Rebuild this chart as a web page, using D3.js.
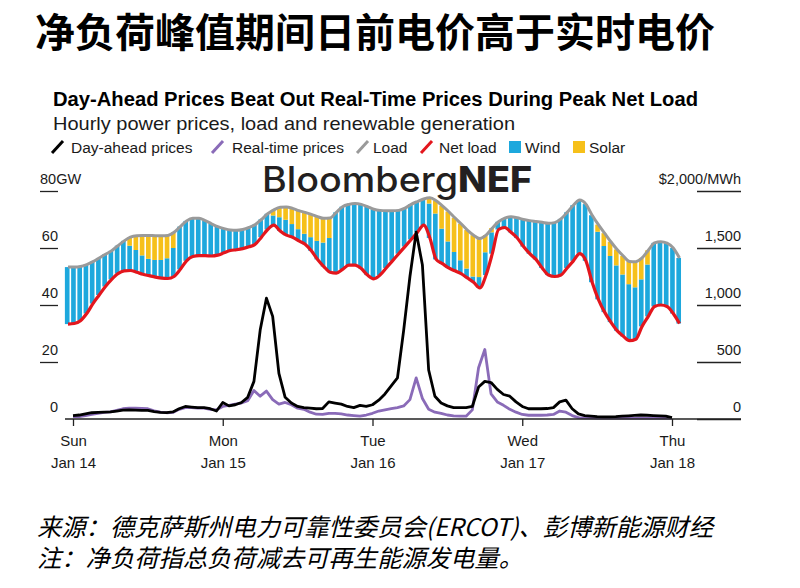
<!DOCTYPE html>
<html><head><meta charset="utf-8">
<script src="https://cdn.jsdelivr.net/npm/d3@7"></script>
<style>
body{margin:0;background:#fff;}
svg{display:block;}
text{font-family:"Liberation Sans",Arial,sans-serif;fill:#1a1a1a;}
.cjk{font-family:"Noto Sans CJK SC",sans-serif;}
</style></head><body>
<svg id="c" width="800" height="588"></svg>
<script>
// ---------------- data ----------------
const titleCN = "净负荷峰值期间日前电价高于实时电价";
const titleEN = "Day-Ahead Prices Beat Out Real-Time Prices During Peak Net Load";
const subtitleEN = "Hourly power prices, load and renewable generation";
const sourceCN = "来源：德克萨斯州电力可靠性委员会(ERCOT)、彭博新能源财经";
const noteCN = "注：净负荷指总负荷减去可再生能源发电量。";
const dayTicks = [0, 24, 48, 72, 96];               // hours since Sun Jan 14 00:00
const dayNames = ["Sun", "Mon", "Tue", "Wed", "Thu"];
const dayDates = ["Jan 14", "Jan 15", "Jan 16", "Jan 17", "Jan 18"];
const gwTicks = [0, 20, 40, 60, 80];
const priceTicks = [0, 500, 1000, 1500, 2000];
const loadStartHour = -1.3;                          // first hourly load bar starts here

// hourly load (GW), 99 hours
const loadGW = [53.3,53.3,53.5,54.2,55.2,56.5,57.8,59,60.8,62.5,63.8,64.3,64.4,64.4,64.3,64.3,64.4,65.5,67.5,69.5,70.4,70.4,69.6,68.5,67.5,
66.8,66.3,66.2,66.5,67.2,68.2,70,72,73.4,74.3,74.4,73.9,73.1,72.5,71.8,71,70.4,70.5,72.5,74.5,75.3,75.6,75.3,74.5,
73.6,73.2,73.1,73.1,73.2,74,75.3,76.3,77.2,77.6,76.6,74.8,72.8,70.6,68.5,66.3,64.5,63.3,64.5,67,69.2,70.5,71,70.6,
70,69.6,69.3,69,68.7,68.9,70.2,72.5,75,76.8,75.4,71.5,68.2,65.2,62.2,59.5,57.2,55.3,55.2,56.5,59.2,61.8,62.2,61.7,60,56.5];
// hourly net load (GW)
const netLoadGW = [33.3,33.5,34.5,37,40.5,43.5,46.5,49,51,52,52.1,51.5,50.8,50.3,49.8,49.4,49.3,50,52.5,55.5,57,57.3,57.3,57.2,57.5,
58.3,59.1,59.4,59.8,60.4,61.3,63.8,66.5,68,66,64.5,63.8,62.5,61.3,59,56,53.5,51.5,51.2,52.5,54,54,52.8,50.5,
49.2,50.5,53,55.5,58,60.5,63,65.5,68,63.5,56,54.5,53,52,51,49.5,48,46,50.5,58,66.5,67.2,65.5,63.5,
60.5,58,56,53,50.5,50,50.5,53,55.5,58,55.5,48,42,37.5,34,31,29,27.5,28,32.5,36,39.5,40,39.5,37,33.5];
// hourly solar (GW)
const solarGW = [0,0,0,0,0,0,0,0,0,0,3,5,7,8.2,8.5,8.5,8,5.5,0,0,0,0,0,0,0,
0,0,0,0,0,0,0,0,2,3.5,4.5,5.5,6.5,7.5,8,8.5,8.5,7,0,0,0,0,0,0,
0,0,0,0,0,0,0,0,0,2,4.5,8,10.5,12,12.8,13.5,14.5,13.5,6,1.5,0,0,0,0,
0,0,0,0,0,0,0,0,0,0,0,0,2.5,4.5,5,5.6,6.5,8,9,7.5,5,0,0,0,0,0,0,0,0];

// hourly prices ($/MWh), hours 0..96
const dayAheadPrice = [30,35,45,55,58,60,62,70,78,80,78,76,75,65,58,56,62,90,110,105,100,100,90,70,
145,115,125,145,190,330,780,1060,900,400,190,140,110,100,95,90,92,150,140,130,110,100,120,110,
125,165,220,290,360,780,1250,1640,1350,430,200,140,115,100,100,100,110,280,330,320,260,215,200,150,
110,90,90,90,92,100,150,165,90,45,30,25,20,18,18,20,25,28,32,35,33,30,28,25,12];
const realTimePrice = [20,22,30,40,50,58,62,75,90,95,95,93,90,72,60,55,58,85,100,100,95,95,85,80,
110,120,130,140,160,250,200,245,170,130,145,125,95,85,60,42,40,50,50,45,35,30,26,35,
50,70,80,90,100,115,170,360,180,85,60,50,35,28,25,25,80,450,610,220,150,120,85,60,
40,33,33,33,35,40,70,60,30,12,10,9,8,8,8,8,8,8,8,8,8,8,8,8,8];

// ---------------- colours ----------------
const C = {wind:"#1da8dd", solar:"#f6c01a", load:"#9a9a9a", net:"#e3161d", da:"#000000", rt:"#8a6bb8", text:"#1a1a1a"};

const svg = d3.select("#c");

// ---------------- scales ----------------
const x = d3.scaleLinear().domain([0, 96]).range([73, 672]);
const yL = d3.scaleLinear().domain([0, 80]).range([419, 191]);
const yR = d3.scaleLinear().domain([0, 2000]).range([419, 191]);

// ---------------- titles ----------------
svg.append("text").attr("class","cjk").attr("x",35).attr("y",47)
  .attr("font-size",40).attr("font-weight",700).style("fill","#000").text(titleCN);
svg.append("text").attr("x",53).attr("y",106).attr("font-size",19.5).attr("font-weight",700)
  .style("fill","#000")
  .attr("textLength",645).attr("lengthAdjust","spacingAndGlyphs").text(titleEN);
svg.append("text").attr("x",53).attr("y",130).attr("font-size",18.5)
  .attr("textLength",462).attr("lengthAdjust","spacingAndGlyphs").text(subtitleEN);

// ---------------- legend ----------------
const legendLines = [
  {label:"Day-ahead prices", color:C.da, ix:52, tx:71},
  {label:"Real-time prices", color:C.rt, ix:212, tx:232},
  {label:"Load", color:C.load, ix:357, tx:373},
  {label:"Net load", color:C.net, ix:421, tx:439}
];
const legendBoxes = [
  {label:"Wind", color:C.wind, ix:509, tx:525},
  {label:"Solar", color:C.solar, ix:573, tx:589}
];
const lg = svg.append("g");
legendLines.forEach(d => {
  lg.append("line").attr("x1",d.ix).attr("y1",153).attr("x2",d.ix+11).attr("y2",141)
    .attr("stroke",d.color).attr("stroke-width",3);
  lg.append("text").attr("x",d.tx).attr("y",153).attr("font-size",15.5).text(d.label);
});
legendBoxes.forEach(d => {
  lg.append("rect").attr("x",d.ix).attr("y",141).attr("width",12).attr("height",12).attr("fill",d.color);
  lg.append("text").attr("x",d.tx).attr("y",153).attr("font-size",15.5).text(d.label);
});

// ---------------- logo watermark ----------------
const logo = svg.append("text").attr("x",262).attr("y",192).attr("font-size",35)
  .style("font-family","Inter, 'Liberation Sans', sans-serif").style("fill","#231f20")
  .attr("textLength",270).attr("lengthAdjust","spacingAndGlyphs");
logo.append("tspan").attr("font-weight",500).text("Bloomberg");
logo.append("tspan").attr("font-weight",800).text("NEF");

// ---------------- bars ----------------
const bars = svg.append("g");
loadGW.forEach((L, i) => {
  const t0 = loadStartHour + i;
  const x0 = x(t0), w = x(t0 + 1) - x(t0) - 1.6;
  const n = netLoadGW[i], s = solarGW[i];
  const windTop = L - s;
  bars.append("rect").attr("x",x0).attr("width",w)
    .attr("y",yL(windTop)).attr("height",yL(n) - yL(windTop)).attr("fill",C.wind);
  if (s > 0) bars.append("rect").attr("x",x0).attr("width",w)
    .attr("y",yL(L)).attr("height",yL(windTop) - yL(L)).attr("fill",C.solar);
});

const hourLine = d3.line().x((d, i) => x(loadStartHour + i + 0.5)).y(d => yL(d)).curve(d3.curveMonotoneX);
svg.append("path").attr("d",hourLine(netLoadGW)).attr("fill","none").attr("stroke",C.net).attr("stroke-width",3.2);
svg.append("path").attr("d",hourLine(loadGW)).attr("fill","none").attr("stroke",C.load).attr("stroke-width",3);

// ---------------- price lines ----------------
const priceLine = d3.line().x((d, i) => x(i)).y(d => yR(d));
svg.append("path").attr("d",priceLine(realTimePrice)).attr("fill","none").attr("stroke",C.rt)
  .attr("stroke-width",2.8).attr("stroke-linejoin","round");
svg.append("path").attr("d",priceLine(dayAheadPrice)).attr("fill","none").attr("stroke",C.da)
  .attr("stroke-width",2.8).attr("stroke-linejoin","round");

// ---------------- axes ----------------
const gL = svg.append("g").attr("transform","translate(58,0)")
  .call(d3.axisLeft(yL).tickValues(gwTicks).tickSize(18).tickFormat(d => d === 80 ? "80GW" : d));
gL.select(".domain").remove();
gL.selectAll(".tick line").attr("stroke","#222").attr("stroke-width",1.3)
  .attr("opacity", d => d === 0 ? 0 : 1);
gL.selectAll(".tick text").attr("x", d => d === 80 ? -18 : 0).attr("dy",-8)
  .attr("text-anchor", d => d === 80 ? "start" : "end")
  .attr("font-size",14.5).attr("font-family","Liberation Sans, Arial, sans-serif").style("fill",C.text);

const gR = svg.append("g").attr("transform","translate(697,0)")
  .call(d3.axisRight(yR).tickValues(priceTicks).tickSize(44)
    .tickFormat(d => d === 2000 ? "$2,000/MWh" : d3.format(",")(d)));
gR.select(".domain").remove();
gR.selectAll(".tick line").attr("stroke","#222").attr("stroke-width",1.3);
gR.selectAll(".tick text").attr("x",44).attr("dy",-8).attr("text-anchor","end")
  .attr("font-size",14.5).attr("font-family","Liberation Sans, Arial, sans-serif").style("fill",C.text);

svg.append("line").attr("x1",65).attr("x2",741).attr("y1",yL(0)).attr("y2",yL(0))
  .attr("stroke","#222").attr("stroke-width",1.3);

const gB = svg.append("g").attr("transform",`translate(0,${yL(0)})`)
  .call(d3.axisBottom(x).tickValues(dayTicks).tickSize(7).tickFormat(""));
gB.select(".domain").remove();
gB.selectAll(".tick line").attr("stroke","#222").attr("stroke-width",1.3);
gB.selectAll(".tick").each(function(d, i) {
  const t = d3.select(this).append("text").attr("text-anchor","middle")
    .attr("font-size",15).attr("font-family","Liberation Sans, Arial, sans-serif").style("fill",C.text);
  t.append("tspan").attr("x",0).attr("y",27).text(dayNames[i]);
  t.append("tspan").attr("x",0).attr("y",49).text(dayDates[i]);
});

// ---------------- footer ----------------
const foot = svg.append("text").attr("class","cjk").attr("font-size",24.3)
  .style("font-style","italic").style("fill","#000");
foot.append("tspan").attr("x",37).attr("y",536).text(sourceCN);
foot.append("tspan").attr("x",37).attr("y",567).text(noteCN);
</script>
</body></html>
